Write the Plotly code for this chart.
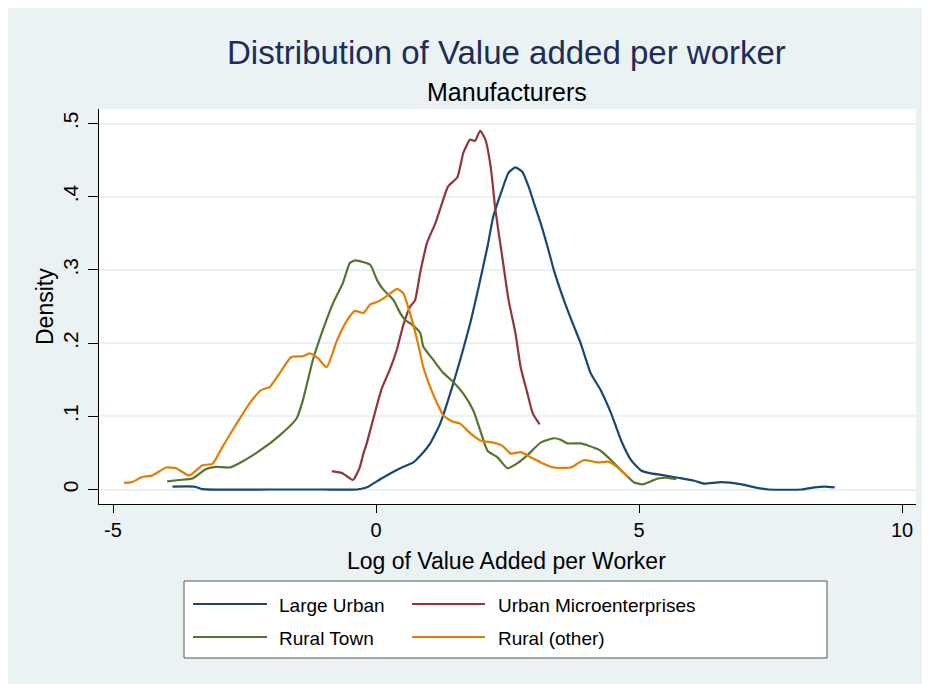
import plotly.graph_objects as go

# ---------------- data ----------------
large_urban_x = [-3.87, -3.45, -3.3, -2.0, -1.0, -0.36, -0.17, 0.08, 0.46, 0.71, 0.84, 1.03, 1.22, 1.41,
                 1.60, 1.79, 1.98, 2.12, 2.23, 2.40, 2.52, 2.65, 2.78, 2.90, 3.0, 3.13, 3.26, 3.38, 3.57,
                 3.74, 3.89, 4.08, 4.27, 4.47, 4.66, 4.85, 5.04, 5.23, 5.42, 5.74, 6.05, 6.24, 6.56, 6.95,
                 7.20, 7.46, 8.09, 8.34, 8.53, 8.72]
large_urban_y = [.004, .004, .0005, 0, 0, 0, .003, .014, .029, .037, .046, .063, .090, .131,
                 .177, .227, .286, .332, .373, .41, .433, .440, .434, .414, .392, .364, .332, .30, .259,
                 .227, .20, .159, .136, .104, .067, .04, .026, .022, .020, .016, .012, .008, .010, .007,
                 .003, 0, 0, .003, .004, .003]

urban_micro_x = [-0.84, -0.63, -0.44, -0.31, -0.24, -0.18, -0.05, 0.11, 0.27, 0.40, 0.52, 0.65, 0.74,
                 0.84, 0.97, 1.13, 1.26, 1.37, 1.55, 1.66, 1.79, 1.88, 1.98, 2.08, 2.18, 2.27, 2.40,
                 2.52, 2.65, 2.75, 2.88, 2.98, 3.11]
urban_micro_y = [.025, .022, .013, .03, .049, .062, .097, .138, .165, .192, .225, .250, .258,
                 .296, .337, .364, .392, .414, .427, .46, .478, .476, .49, .478, .441, .382, .318,
                 .259, .214, .167, .131, .104, .089]

rural_town_x = [-3.97, -3.74, -3.49, -3.23, -3.04, -2.79, -2.60, -2.21, -1.83, -1.51, -1.39, -1.20,
                -1.01, -0.82, -0.63, -0.50, -0.40, -0.31, -0.11, 0.02, 0.14, 0.33, 0.46, 0.55, 0.69,
                0.84, 0.90, 1.09, 1.28, 1.47, 1.66, 1.85, 1.98, 2.12, 2.31, 2.50, 2.69, 2.88, 3.13,
                3.38, 3.51, 3.64, 3.89, 4.03, 4.27, 4.47, 4.72, 4.90, 5.07, 5.36, 5.55, 5.71]
rural_town_y = [.011, .013, .015, .028, .031, .030, .036, .053, .074, .097, .122, .177,
                .218, .254, .282, .309, .313, .312, .307, .286, .273, .259, .241, .232, .225,
                .214, .195, .177, .159, .147, .131, .108, .081, .053, .044, .029, .036, .047, .064,
                .070, .068, .063, .063, .06, .053, .040, .022, .010, .007, .015, .016, .014]

rural_other_x = [-4.79, -4.64, -4.45, -4.26, -3.99, -3.80, -3.55, -3.30, -3.11, -2.92, -2.65, -2.40,
                 -2.18, -2.02, -1.83, -1.61, -1.39, -1.26, -1.10, -0.94, -0.74, -0.55, -0.40, -0.24,
                 -0.11, 0.02, 0.14, 0.27, 0.40, 0.52, 0.65, 0.78, 0.90, 1.03, 1.16, 1.28, 1.45, 1.60,
                 1.79, 1.98, 2.23, 2.40, 2.56, 2.75, 2.94, 3.13, 3.38, 3.70, 3.95, 4.22, 4.41, 4.60, 4.79]
rural_other_y = [.009, .010, .017, .019, .030, .029, .019, .033, .035, .058, .090, .118,
                 .136, .140, .159, .181, .182, .186, .179, .167, .204, .231, .244, .241,
                 .253, .256, .261, .268, .274, .268, .240, .205, .167, .140, .118, .101, .093, .090,
                 .077, .067, .064, .060, .049, .051, .044, .037, .030, .030, .040, .037, .038, .030, .017]

series_names = ["Large Urban", "Urban Microenterprises", "Rural Town", "Rural (other)"]
series_colors = ["#1A476F", "#90353B", "#55752F", "#E37E00"]

x_tickvals = [-5, 0, 5, 10]
x_ticktext = ["-5", "0", "5", "10"]
y_tickvals = [0, 0.1, 0.2, 0.3, 0.4, 0.5]
y_ticktext = ["0", ".1", ".2", ".3", ".4", ".5"]

title_text = "Distribution of Value added per worker"
subtitle_text = "Manufacturers"
x_title = "Log of Value Added per Worker"
y_title = "Density"

# ---------------- layout geometry ----------------
# the page body adds an 8px offset; all pixel positions below are relative to the figure
OFF = 8
W, H = 930, 684
L, R, T, B = 99 - OFF, 916 - OFF, 109 - OFF, 504 - OFF  # plot area in figure pixels
X0PIX = 376 - OFF     # pixel of x=0
XSCALE = 52.6         # pixels per x unit
Y0PIX = 489.5 - OFF   # pixel of y=0
YSCALE = 732.0        # pixels per y unit
BG = "#EAF2F3"
FONT = "Arial, Liberation Sans, Helvetica, sans-serif"


def px(xpix):
    """page pixel -> paper x"""
    return (xpix - OFF - L) / (R - L)


def py(ypix):
    """page pixel -> paper y"""
    return (B - (ypix - OFF)) / (B - T)


fig = go.Figure()
all_series = [
    (large_urban_x, large_urban_y),
    (urban_micro_x, urban_micro_y),
    (rural_town_x, rural_town_y),
    (rural_other_x, rural_other_y),
]
for (xs, ys), name, col in zip(all_series, series_names, series_colors):
    fig.add_trace(go.Scatter(x=xs, y=ys, mode="lines", name=name,
                             line=dict(color=col, width=2.2, shape="spline", smoothing=0.5),
                             showlegend=False))

shapes = []
# legend box
shapes.append(dict(type="rect", xref="paper", yref="paper", x0=px(184), x1=px(827), y0=py(658), y1=py(581),
                   fillcolor="white", line=dict(color="#555555", width=1)))
annotations = []
leg_pos = [(193, 267, 277, 604), (412, 485, 496, 604), (193, 267, 277, 637), (412, 485, 496, 637)]
for (lx0, lx1, tx, ly), name, col in zip(leg_pos, series_names, series_colors):
    shapes.append(dict(type="line", xref="paper", yref="paper", x0=px(lx0), x1=px(lx1), y0=py(ly), y1=py(ly),
                       line=dict(color=col, width=2)))
    annotations.append(dict(xref="paper", yref="paper", x=px(tx), y=py(ly + 1), text=name, showarrow=False,
                            xanchor="left", yanchor="middle", font=dict(size=19, color="black", family=FONT)))

annotations.append(dict(xref="paper", yref="paper", x=px(506), y=py(53), text=title_text, showarrow=False,
                        xanchor="center", yanchor="middle", font=dict(size=33, color="#1C2D58", family=FONT)))
annotations.append(dict(xref="paper", yref="paper", x=px(507), y=py(92), text=subtitle_text, showarrow=False,
                        xanchor="center", yanchor="middle", font=dict(size=25, color="black", family=FONT)))
annotations.append(dict(xref="paper", yref="paper", x=px(506), y=py(546), text=x_title, showarrow=False,
                        xanchor="center", yanchor="top", font=dict(size=23, color="black", family=FONT)))
annotations.append(dict(xref="paper", yref="paper", x=px(45), y=py(307), text=y_title, showarrow=False,
                        textangle=-90, xanchor="center", yanchor="middle",
                        font=dict(size=23, color="black", family=FONT)))

fig.update_layout(
    width=W, height=H,
    margin=dict(l=L, r=W - R, t=T, b=H - B, pad=0),
    paper_bgcolor=BG, plot_bgcolor="white",
    font=dict(family=FONT, color="black"),
    shapes=shapes, annotations=annotations,
    showlegend=False,
)
fig.update_xaxes(range=[(L - X0PIX) / XSCALE, (R - X0PIX) / XSCALE], tickvals=x_tickvals, ticktext=x_ticktext,
                 showgrid=False, zeroline=False, showline=True, linecolor="black", linewidth=1,
                 ticks="outside", ticklen=8, tickcolor="black", tickwidth=1,
                 tickfont=dict(size=20, color="black", family=FONT))
fig.update_yaxes(range=[(Y0PIX - B) / YSCALE, (Y0PIX - T) / YSCALE], tickvals=y_tickvals, ticktext=y_ticktext,
                 showgrid=True, gridcolor=BG, gridwidth=2, zeroline=False, showline=True,
                 linecolor="black", linewidth=1, ticks="outside", ticklen=10, tickcolor="black", tickwidth=1,
                 tickangle=-90, ticklabelstandoff=2,
                 tickfont=dict(size=21, color="black", family=FONT))

fig.write_html("out.html")
